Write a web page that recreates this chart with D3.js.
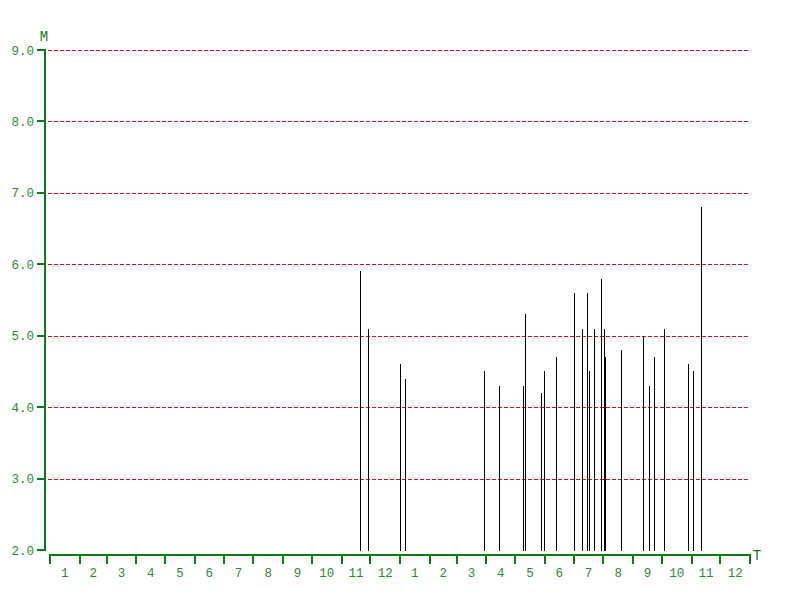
<!DOCTYPE html>
<html>
<head>
<meta charset="utf-8">
<script src="https://cdn.jsdelivr.net/npm/d3@7"></script>
<style>
  html, body { margin: 0; padding: 0; background: #fff; }
  svg { display: block; }
  text { font-family: "Liberation Mono", "DejaVu Sans Mono", monospace; }
</style>
</head>
<body>
<svg id="chart" width="800" height="600"></svg>
<script>
// ---- data ----
const eventDates = [
  "2010-11-21", "2010-11-29", "2011-01-01", "2011-01-07",
  "2011-03-30", "2011-04-15", "2011-05-10", "2011-05-12",
  "2011-05-29", "2011-06-01", "2011-06-13", "2011-07-02",
  "2011-07-10", "2011-07-16", "2011-07-18", "2011-07-23",
  "2011-07-30", "2011-08-02", "2011-08-03", "2011-08-20",
  "2011-09-12", "2011-09-18", "2011-09-23", "2011-10-04",
  "2011-10-29", "2011-11-03", "2011-11-11"
];
const magnitudes = [
  5.9, 5.1, 4.6, 4.4,
  4.5, 4.3, 4.3, 5.3,
  4.2, 4.5, 4.7, 5.6,
  5.1, 5.6, 4.5, 5.1,
  5.8, 5.1, 4.7, 4.8,
  5.0, 4.3, 4.7, 5.1,
  4.6, 4.5, 6.8
];
const yTickValues = [2, 3, 4, 5, 6, 7, 8, 9];
const monthLabels = ["1","2","3","4","5","6","7","8","9","10","11","12"];
const timeStart = "2010-01-01";
const timeEnd = "2012-01-01";
const yAxisTitle = "M";
const xAxisTitle = "T";

// ---- drawing ----
const parse = d3.utcParse("%Y-%m-%d");
const svg = d3.select("#chart");
const green = "#0a7d12";
const labelGreen = "#2a8c32";
const gridRed = "#cc1030";

const x = d3.scaleUtc().domain([parse(timeStart), parse(timeEnd)]).range([50, 750]);
const y = d3.scaleLinear().domain([2, 9]).range([550, 50]);

// gridlines
svg.append("g").selectAll("line")
  .data(yTickValues.filter(v => v > 2))
  .join("line")
  .attr("x1", 48).attr("x2", 750)
  .attr("y1", d => Math.round(y(d)) + 0.5)
  .attr("y2", d => Math.round(y(d)) + 0.5)
  .attr("stroke", gridRed)
  .attr("stroke-width", 1)
  .attr("stroke-dasharray", "4,2")
  .attr("shape-rendering", "crispEdges");

// spikes
const events = eventDates.map((d, i) => ({ date: parse(d), m: magnitudes[i] }));
svg.append("g").selectAll("line")
  .data(events)
  .join("line")
  .attr("x1", d => Math.floor(x(d.date)) + 0.5)
  .attr("x2", d => Math.floor(x(d.date)) + 0.5)
  .attr("y1", y(2) + 1)
  .attr("y2", d => Math.round(y(d.m)))
  .attr("stroke", "#000")
  .attr("stroke-width", 1)
  .attr("shape-rendering", "crispEdges");

// y axis
const yAxis = svg.append("g");
yAxis.append("line")
  .attr("x1", 45).attr("x2", 45)
  .attr("y1", y(9) - 1).attr("y2", y(2) + 1)
  .attr("stroke", green).attr("stroke-width", 2)
  .attr("shape-rendering", "crispEdges");
yAxis.selectAll("line.tick")
  .data(yTickValues)
  .join("line")
  .attr("class", "tick")
  .attr("x1", 37).attr("x2", 45)
  .attr("y1", d => Math.round(y(d)))
  .attr("y2", d => Math.round(y(d)))
  .attr("stroke", green).attr("stroke-width", 2)
  .attr("shape-rendering", "crispEdges");
yAxis.selectAll("text")
  .data(yTickValues)
  .join("text")
  .attr("x", 34)
  .attr("y", d => y(d) + 4.5)
  .attr("text-anchor", "end")
  .attr("font-size", 12.5)
  .attr("fill", labelGreen)
  .text(d => d3.format(".1f")(d));
svg.append("text")
  .attr("x", 44).attr("y", 41)
  .attr("text-anchor", "middle")
  .attr("font-family", "Liberation Serif, serif")
  .attr("font-size", 14)
  .attr("fill", green)
  .text(yAxisTitle);

// x axis
const months = x.ticks(d3.utcMonth.every(1));
const xAxis = svg.append("g");
xAxis.append("line")
  .attr("x1", 49).attr("x2", 751)
  .attr("y1", 555).attr("y2", 555)
  .attr("stroke", green).attr("stroke-width", 2)
  .attr("shape-rendering", "crispEdges");
xAxis.selectAll("line.tick")
  .data(months)
  .join("line")
  .attr("class", "tick")
  .attr("x1", d => Math.round(x(d))).attr("x2", d => Math.round(x(d)))
  .attr("y1", 554).attr("y2", 564)
  .attr("stroke", green).attr("stroke-width", 2)
  .attr("shape-rendering", "crispEdges");
const monthStarts = months.slice(0, months.length - 1);
xAxis.selectAll("text")
  .data(monthStarts)
  .join("text")
  .attr("x", d => (x(d) + x(d3.utcMonth.offset(d, 1))) / 2)
  .attr("y", 577)
  .attr("text-anchor", "middle")
  .attr("font-size", 12.5)
  .attr("fill", labelGreen)
  .text(d => monthLabels[d.getUTCMonth()]);
svg.append("text")
  .attr("x", 757).attr("y", 560)
  .attr("text-anchor", "middle")
  .attr("font-family", "Liberation Serif, serif")
  .attr("font-size", 14)
  .attr("fill", green)
  .text(xAxisTitle);
</script>
</body>
</html>
